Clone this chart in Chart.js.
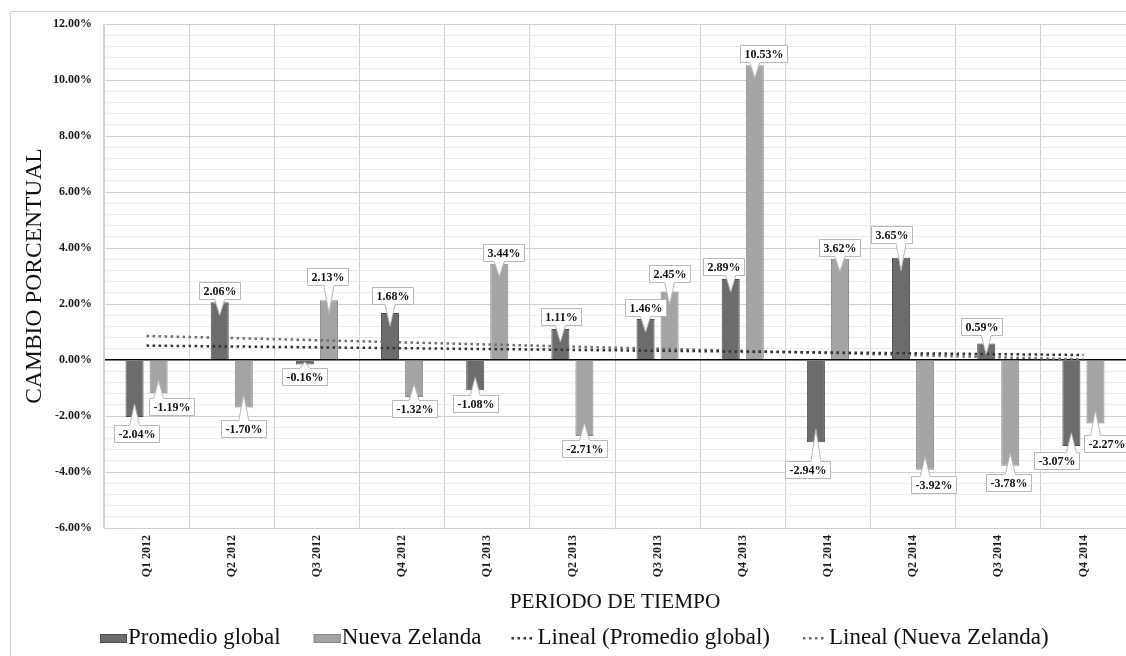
<!DOCTYPE html>
<html>
<head>
<meta charset="utf-8">
<script src="https://cdn.jsdelivr.net/npm/chart.js@4.4.1/dist/chart.umd.min.js"></script>
<style>
  html, body { margin: 0; padding: 0; background: #ffffff; overflow: hidden; }
  #wrap { width: 1126px; height: 656px; position: relative; }
</style>
</head>
<body>
<div id="wrap"><canvas id="chart" width="1126" height="656"></canvas></div>
<script>
// Quarterly percentage change
const periods = ['Q1 2012', 'Q2 2012', 'Q3 2012', 'Q4 2012',
                 'Q1 2013', 'Q2 2013', 'Q3 2013', 'Q4 2013',
                 'Q1 2014', 'Q2 2014', 'Q3 2014', 'Q4 2014'];
const promedioGlobal = [-2.04, 2.06, -0.16, 1.68, -1.08, 1.11, 1.46, 2.89, -2.94, 3.65, 0.59, -3.07];
const nuevaZelanda   = [-1.19, -1.70, 2.13, -1.32, 3.44, -2.71, 2.45, 10.53, 3.62, -3.92, -3.78, -2.27];

// Value axis range and label step (percent)
const yMin = -6;
const yMax = 12;
const yMajorStep = 2;
const yMinorStep = 0.4;

// Callout placement per bar: horizontal shift of the box and gap from the bar end (px)
const calloutShiftGlobal = [[2, 8], [0, 3], [0, 4], [2, 9], [0, 5], [1, 4], [0, 3], [-7, 4], [-8, 19], [-10, 15], [-5, 8], [-15, 6]];
const calloutShiftNZ     = [[13, 5], [0, 12], [-1, 15], [0, 3], [4, 3], [0, 4], [0, 9], [9, 3], [0, 3], [8, 6], [-2, 8], [11, 11]];

const SERIF = '"Liberation Serif", "Times New Roman", serif';

// Least-squares linear trend evaluated at each period (Excel "Lineal" trendline)
function linearTrend(values) {
  const n = values.length;
  let sx = 0, sy = 0, sxx = 0, sxy = 0;
  values.forEach((v, i) => { const x = i + 1; sx += x; sy += v; sxx += x * x; sxy += x * v; });
  const slope = (n * sxy - sx * sy) / (n * sxx - sx * sx);
  const intercept = (sy - slope * sx) / n;
  return values.map((_, i) => intercept + slope * (i + 1));
}

const isMajor = v => Math.abs(v / yMajorStep - Math.round(v / yMajorStep)) < 1e-6;

// Boxed value labels with a pointer into each bar
const calloutPlugin = {
  id: 'callouts',
  afterDatasetsDraw(chart) {
    const ctx = chart.ctx;
    const shifts = [calloutShiftGlobal, calloutShiftNZ];
    ctx.save();
    ctx.font = 'bold 12px ' + SERIF;
    ctx.textAlign = 'center';
    ctx.textBaseline = 'middle';
    [0, 1].forEach(di => {
      const meta = chart.getDatasetMeta(di);
      const values = chart.data.datasets[di].data;
      meta.data.forEach((bar, j) => {
        const v = values[j];
        const text = v.toFixed(2) + '%';
        const [dx, gap] = shifts[di][j];
        const w = Math.round(ctx.measureText(text).width) + 8;
        const h = 17;
        const cx = bar.x + dx;
        const L = Math.round(cx - w / 2) + 0.5, R = L + w;
        const len = Math.abs(bar.base - bar.y);
        const depth = Math.min(13, len * 0.7);
        const tipX = bar.x;
        let T, B, tipY;
        ctx.beginPath();
        if (v >= 0) {
          B = Math.round(bar.y - gap) + 0.5; T = B - h;
          tipY = bar.y + depth;
          const bx = Math.min(Math.max(tipX, L + 7), R - 7);
          ctx.moveTo(L, T); ctx.lineTo(R, T); ctx.lineTo(R, B);
          ctx.lineTo(bx + 5, B); ctx.lineTo(tipX, tipY); ctx.lineTo(bx - 5, B);
          ctx.lineTo(L, B); ctx.closePath();
        } else {
          T = Math.round(bar.y + gap) + 0.5; B = T + h;
          tipY = bar.y - depth;
          const bx = Math.min(Math.max(tipX, L + 7), R - 7);
          ctx.moveTo(L, T); ctx.lineTo(bx - 5, T); ctx.lineTo(tipX, tipY);
          ctx.lineTo(bx + 5, T); ctx.lineTo(R, T); ctx.lineTo(R, B);
          ctx.lineTo(L, B); ctx.closePath();
        }
        ctx.fillStyle = '#ffffff';
        ctx.fill();
        ctx.strokeStyle = '#b8b8b8';
        ctx.lineWidth = 1;
        ctx.stroke();
        ctx.fillStyle = '#111111';
        ctx.fillText(text, (L + R) / 2, (T + B) / 2 + 0.5);
      });
    });
    ctx.restore();
  }
};

// Outer frame and legend row
const framePlugin = {
  id: 'frameLegend',
  afterDraw(chart) {
    const ctx = chart.ctx;
    ctx.save();
    ctx.strokeStyle = '#d0d0d0';
    ctx.lineWidth = 1;
    ctx.beginPath();
    ctx.moveTo(10.5, 700); ctx.lineTo(10.5, 11.5); ctx.lineTo(1200, 11.5);
    ctx.stroke();

    const ds = chart.data.datasets;
    ctx.font = '23px ' + SERIF;
    ctx.textBaseline = 'alphabetic';
    ctx.textAlign = 'left';
    const afterGap = [33, 28, 31, 0];
    let x = 100;
    const baseY = 644;
    ds.forEach((d, i) => {
      let tx;
      if (d.type === 'line') {
        ctx.fillStyle = d.borderColor;
        for (let k = 0; k < 4; k++) {
          ctx.fillRect(x + 2 + k * 6, baseY - 7, 2.5, 2.5);
        }
        tx = x + 28;
      } else {
        ctx.fillStyle = d.backgroundColor;
        ctx.fillRect(x, baseY - 10, 27, 9);
        ctx.strokeStyle = d.borderColor;
        ctx.strokeRect(x + 0.5, baseY - 9.5, 26, 8);
        tx = x + 28;
      }
      ctx.fillStyle = '#111111';
      ctx.fillText(d.label, tx, baseY);
      x = tx + ctx.measureText(d.label).width + afterGap[i];
    });
    ctx.restore();
  }
};

new Chart(document.getElementById('chart'), {
  type: 'bar',
  data: {
    labels: periods,
    datasets: [
      {
        label: 'Promedio global',
        data: promedioGlobal,
        backgroundColor: '#6c6c6c',
        borderColor: '#4c4c4c',
        borderWidth: 1,
        categoryPercentage: 0.565,
        barPercentage: 0.75,
        order: 2
      },
      {
        label: 'Nueva Zelanda',
        data: nuevaZelanda,
        backgroundColor: '#a4a4a4',
        borderColor: '#878787',
        borderWidth: 1,
        categoryPercentage: 0.565,
        barPercentage: 0.75,
        order: 2
      },
      {
        type: 'line',
        label: 'Lineal (Promedio global)',
        data: linearTrend(promedioGlobal),
        borderColor: '#333333',
        borderWidth: 2.5,
        borderDash: [2.5, 3.5],
        pointRadius: 0,
        fill: false,
        order: 0
      },
      {
        type: 'line',
        label: 'Lineal (Nueva Zelanda)',
        data: linearTrend(nuevaZelanda),
        borderColor: '#6e6e6e',
        borderWidth: 2.5,
        borderDash: [2.5, 3.5],
        pointRadius: 0,
        fill: false,
        order: 1
      }
    ]
  },
  options: {
    responsive: false,
    animation: false,
    devicePixelRatio: 1,
    layout: { padding: { left: 10, top: 24, right: 0, bottom: 41 } },
    plugins: {
      legend: { display: false },
      tooltip: { enabled: false }
    },
    scales: {
      x: {
        offset: true,
        grid: { color: '#d2d2d2', lineWidth: 1, drawTicks: false, offset: true },
        border: { display: false },
        ticks: {
          font: { family: SERIF, size: 12, weight: 'bold' },
          color: '#1a1a1a',
          minRotation: 90,
          maxRotation: 90,
          padding: 7,
          autoSkip: false
        },
        title: {
          display: true,
          text: 'PERIODO DE TIEMPO',
          font: { family: SERIF, size: 21.3 },
          color: '#111111',
          padding: { top: 0, bottom: 0 }
        },
        afterFit(scale) {
          scale.height = 87;
          scale.paddingLeft = 0;
          scale.paddingRight = 0;
        }
      },
      y: {
        min: yMin,
        max: yMax,
        grid: {
          drawTicks: false,
          color: ctx => (ctx.tick && Math.abs(ctx.tick.value) < 1e-6) ? '#000000'
                        : (ctx.tick && isMajor(ctx.tick.value) ? '#cfcfcf' : '#ebebeb'),
          lineWidth: ctx => (ctx.tick && Math.abs(ctx.tick.value) < 1e-6) ? 1.5 : 1
        },
        border: { display: true, color: '#d2d2d2' },
        ticks: {
          stepSize: yMinorStep,
          autoSkip: false,
          padding: 12,
          font: { family: SERIF, size: 12, weight: 'bold' },
          color: '#1a1a1a',
          callback: v => isMajor(v) ? v.toFixed(2) + '%' : ''
        },
        title: {
          display: true,
          text: 'CAMBIO PORCENTUAL',
          font: { family: SERIF, size: 23.5 },
          color: '#111111',
          padding: { top: 11, bottom: 0 }
        },
        afterFit(scale) {
          scale.width = 94;
          scale.paddingTop = 0;
          scale.paddingBottom = 0;
        }
      }
    }
  },
  plugins: [calloutPlugin, framePlugin]
});
</script>
</body>
</html>
